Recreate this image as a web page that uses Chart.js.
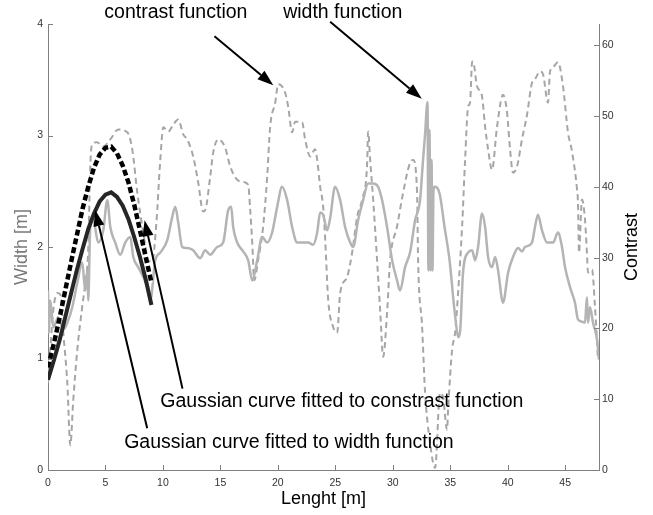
<!DOCTYPE html>
<html>
<head>
<meta charset="utf-8">
<script src="https://cdn.jsdelivr.net/npm/chart.js@4.4.1/dist/chart.umd.min.js"></script>
<style>
html,body{margin:0;padding:0;background:#fff;}
canvas{display:block;}
</style>
</head>
<body>
<canvas id="chart" width="653" height="515"></canvas>
<script>
// width function, left axis [m]
const widthX = [0.00,0.07,0.20,0.46,0.90,1.33,1.68,2.11,2.55,2.98,3.24,3.42,3.50,3.68,3.94,4.37,4.81,5.16,5.42,5.85,
  6.29,6.72,7.16,7.42,7.85,8.29,8.63,8.90,9.33,9.77,10.37,10.81,11.07,11.33,11.68,12.11,12.63,13.24,13.68,14.11,
  14.72,15.24,15.68,15.94,16.11,16.46,16.98,17.42,17.77,18.20,18.63,19.07,19.50,19.94,20.37,20.81,21.24,21.68,22.20,22.63,
  23.07,23.42,23.68,23.94,24.29,24.55,24.98,25.42,25.85,26.29,26.55,26.98,27.42,27.85,28.29,28.72,29.07,29.50,29.94,30.37,
  30.63,31.07,31.50,31.94,32.37,32.63,32.80,33.02,33.10,33.19,33.28,33.37,33.45,33.54,33.63,34.07,34.50,34.94,35.37,35.72,
  35.87,36.11,36.55,36.90,37.16,37.42,37.76,38.03,38.29,38.63,38.90,39.16,39.59,40.03,40.46,40.90,41.24,41.50,42.11,42.37,
  42.63,42.98,43.42,43.94,44.37,44.72,44.98,45.42,45.85,46.11,46.46,46.72,46.89,46.98,47.16,47.42,47.77,47.94];
const widthY = [1.61,1.23,1.52,1.28,1.37,1.26,1.32,1.46,1.68,1.86,1.61,1.79,1.52,2.18,2.24,2.04,2.15,2.42,2.18,2.04,
  1.93,2.04,2.09,1.91,1.82,1.73,1.64,1.52,1.88,1.95,2.06,2.27,2.36,2.22,2.00,1.99,1.97,1.90,1.97,1.93,
  2.00,2.04,2.33,2.36,2.18,2.04,1.96,1.88,1.70,1.88,2.09,2.04,2.13,2.36,2.54,2.42,2.18,2.04,2.04,2.04,
  2.02,2.13,2.31,2.29,2.15,2.26,2.54,2.42,2.18,2.04,2.00,2.24,2.42,2.57,2.57,2.54,2.42,2.18,1.88,1.70,
  1.61,1.82,1.95,2.24,2.42,2.78,3.00,3.30,1.79,3.05,1.79,2.78,1.79,2.51,2.54,2.48,2.18,1.88,1.43,1.19,
  1.26,1.77,1.95,1.97,1.88,2.00,2.30,2.18,1.91,1.82,1.91,1.79,1.50,1.77,1.91,1.99,1.96,2.00,2.04,2.18,
  2.29,2.15,2.04,2.04,2.13,2.00,1.82,1.64,1.50,1.35,1.33,1.32,1.55,1.32,1.46,1.32,1.17,0.99];

// contrast function, right axis
const contrastX = [0.00,0.20,0.46,0.81,1.07,1.33,1.68,1.94,2.20,2.55,2.98,3.24,3.50,3.68,3.83,4.26,4.81,5.42,6.11,6.90,
  7.33,7.77,8.29,8.72,9.07,9.42,9.77,10.03,10.46,10.90,11.33,11.77,12.11,12.63,13.07,13.50,13.70,14.11,14.37,14.81,
  15.42,15.85,16.46,16.98,17.42,17.59,17.77,17.94,18.29,18.72,19.07,19.33,19.77,20.03,20.63,20.90,21.24,21.50,22.11,22.37,
  22.81,23.24,23.42,23.68,23.94,24.12,24.38,24.81,25.16,25.42,26.03,26.46,26.90,27.33,27.77,27.85,28.03,28.29,28.63,28.90,
  29.16,29.50,29.77,30.37,30.90,31.50,31.77,32.11,32.20,32.55,32.81,33.24,33.68,34.11,34.37,34.72,34.81,35.16,35.42,35.68,
  36.03,36.29,36.55,36.72,36.90,36.98,37.33,37.76,38.03,38.29,38.63,39.07,39.59,39.94,40.20,40.46,40.81,41.24,41.68,42.11,
  42.37,42.81,43.07,43.50,43.68,43.94,44.37,44.81,45.24,45.59,46.03,46.11,46.20,46.46,46.72,46.89,46.98,47.33,47.59,47.85];
const contrastY = [12.3,17.0,22.6,25.0,24.8,19.4,12.3,3.5,9.9,17.0,23.1,26.4,31.1,42.9,46.0,46.3,45.7,46.7,48.1,47.7,
  45.3,39.2,33.5,29.7,29.4,34.7,43.8,48.4,47.8,48.8,49.5,47.4,46.7,44.3,40.6,36.5,36.8,41.4,44.8,46.7,
  45.5,42.9,41.0,40.7,40.3,36.8,32.1,26.8,29.7,34.4,41.4,48.5,51.9,54.5,53.3,51.3,47.7,49.2,49.1,46.7,
  44.3,45.3,43.8,40.0,37.2,32.5,24.0,20.2,19.4,25.0,27.3,30.7,35.8,38.2,43.4,47.8,43.8,38.2,29.7,22.6,
  16.0,22.2,29.7,34.4,39.2,43.4,43.8,39.2,29.7,20.2,10.9,3.8,0.3,10.9,10.3,5.7,8.5,17.0,19.4,25.0,
  34.4,43.8,51.3,51.9,57.6,57.7,54.2,52.8,48.5,45.3,42.4,48.5,53.0,50.5,45.3,42.0,42.9,46.7,50.2,54.7,
  55.2,56.3,55.9,51.9,56.3,56.9,57.6,54.2,47.7,45.0,39.6,37.8,30.7,38.2,35.4,30.7,27.9,28.3,23.1,15.6];

// fitted gaussian curves in width units
const fitX = [0,0.5,1,1.5,2,2.5,3,3.5,4,4.5,5,5.5,6,6.5,7,7.5,8,8.5,9];
const fitContrast = [0.92,1.13,1.36,1.61,1.86,2.10,2.34,2.54,2.71,2.83,2.89,2.90,2.84,2.73,2.58,2.38,2.15,1.91,1.68];
const fitWidth = [0.81,0.98,1.16,1.37,1.58,1.79,1.98,2.16,2.30,2.41,2.47,2.49,2.45,2.37,2.25,2.09,1.91,1.71,1.48];

const FONT = "'Liberation Sans', Arial, Helvetica, sans-serif";
const AXIS = '#808080';

// annotation texts and arrows, in x / width units
const notes = [
  {text:'contrast function', at:[4.9,4.05], from:[14.48,3.89], to:[19.6,3.45]},
  {text:'width function', at:[20.46,4.05], from:[24.55,4.02], to:[32.52,3.33]},
  {text:'Gaussian curve fitted to constrast function', at:[9.77,0.565], from:[11.70,0.73], to:[8.40,2.24]},
  {text:'Gaussian curve fitted to width function', at:[6.63,0.197], from:[8.63,0.375], to:[4.11,2.33]}
];

function pts(xs, ys){ return xs.map((x,i)=>({x:x, y:ys[i]})); }

function arrow(ctx, x0, y0, x1, y1){
  const ang = Math.atan2(y1-y0, x1-x0);
  const len = 16, half = 5.5;
  const bx = x1 - len*Math.cos(ang), by = y1 - len*Math.sin(ang);
  ctx.beginPath();
  ctx.moveTo(x0, y0); ctx.lineTo(bx, by);
  ctx.stroke();
  ctx.beginPath();
  ctx.moveTo(x1, y1);
  ctx.lineTo(bx + half*Math.sin(ang), by - half*Math.cos(ang));
  ctx.lineTo(bx - half*Math.sin(ang), by + half*Math.cos(ang));
  ctx.closePath();
  ctx.fill();
}

const decor = {
  id:'decor',
  afterDraw(chart){
    const {ctx, chartArea:a, scales} = chart;
    const x = scales.x, y = scales.y, y2 = scales.y2;
    ctx.save();
    // inward tick marks
    ctx.strokeStyle = AXIS; ctx.lineWidth = 1;
    ctx.beginPath();
    x.ticks.forEach(t=>{ const p = Math.round(x.getPixelForValue(t.value))+0.5; ctx.moveTo(p, a.bottom); ctx.lineTo(p, a.bottom-5); });
    y.ticks.forEach(t=>{ const p = Math.round(y.getPixelForValue(t.value))+0.5; ctx.moveTo(a.left, p); ctx.lineTo(a.left+5, p); });
    y2.ticks.forEach(t=>{ const p = Math.round(y2.getPixelForValue(t.value))+0.5; ctx.moveTo(a.right, p); ctx.lineTo(a.right-5, p); });
    ctx.stroke();
    // right axis title, reads bottom to top
    ctx.save();
    ctx.translate(a.right+37.5, (a.top+a.bottom)/2);
    ctx.rotate(-Math.PI/2);
    ctx.font = '18px ' + FONT;
    ctx.fillStyle = '#000';
    ctx.textAlign = 'center'; ctx.textBaseline = 'alphabetic';
    ctx.fillText('Contrast', 0, 0);
    ctx.restore();
    // notes with arrows
    ctx.fillStyle = '#000'; ctx.strokeStyle = '#000'; ctx.lineWidth = 2;
    ctx.font = '19.5px ' + FONT;
    ctx.textAlign = 'left'; ctx.textBaseline = 'alphabetic';
    notes.forEach(n=>{
      ctx.fillText(n.text, x.getPixelForValue(n.at[0]), y.getPixelForValue(n.at[1]));
      arrow(ctx, x.getPixelForValue(n.from[0]), y.getPixelForValue(n.from[1]),
                 x.getPixelForValue(n.to[0]), y.getPixelForValue(n.to[1]));
    });
    ctx.restore();
  }
};

const tickFont = {family:FONT, size:10.5};

new Chart(document.getElementById('chart'), {
  type:'line',
  data:{
    datasets:[
      {data:pts(fitX, fitWidth), yAxisID:'y', borderColor:'#262626', borderWidth:4, order:0},
      {data:pts(fitX, fitContrast), yAxisID:'y', borderColor:'#000', borderWidth:4.5, borderDash:[6,3], order:1},
      {data:pts(fitX, fitContrast), yAxisID:'y', borderColor:'#fff', borderWidth:2.5, order:2},
      {data:pts(widthX, widthY), yAxisID:'y', borderColor:'#b4b4b4', borderWidth:2.5, cubicInterpolationMode:'monotone', order:3},
      {data:pts(contrastX, contrastY), yAxisID:'y2', borderColor:'#a6a6a6', borderWidth:2, borderDash:[6,4], cubicInterpolationMode:'monotone', order:4}
    ]
  },
  options:{
    responsive:false, animation:false, events:[],
    layout:{padding:{top:24, left:0, right:0, bottom:0}},
    plugins:{legend:{display:false}, tooltip:{enabled:false}},
    elements:{point:{radius:0}, line:{tension:0}},
    scales:{
      x:{type:'linear', min:0, max:47.94,
        afterFit(s){ s.height = 45; },
        grid:{display:false, drawTicks:false}, border:{color:AXIS},
        ticks:{stepSize:5, includeBounds:false, padding:7, maxRotation:0, color:'#333', font:tickFont},
        title:{display:true, text:'Lenght [m]', color:'#000', font:{family:FONT, size:18}, padding:{top:0, bottom:5.5}}},
      y:{type:'linear', position:'left', min:0, max:4,
        afterFit(s){ s.width = 48; },
        grid:{display:false, drawTicks:false}, border:{color:AXIS},
        ticks:{stepSize:1, includeBounds:false, padding:5, color:'#333', font:tickFont},
        title:{display:true, text:'Width [m]', color:'#7a7a7a', font:{family:FONT, size:18}, padding:{top:11, bottom:0}}},
      y2:{type:'linear', position:'right', min:0, max:63,
        afterFit(s){ s.width = 54; },
        grid:{display:false, drawTicks:false}, border:{color:AXIS},
        ticks:{stepSize:10, includeBounds:false, padding:3, color:'#333', font:tickFont}}
    }
  },
  plugins:[decor]
});
</script>
</body>
</html>
